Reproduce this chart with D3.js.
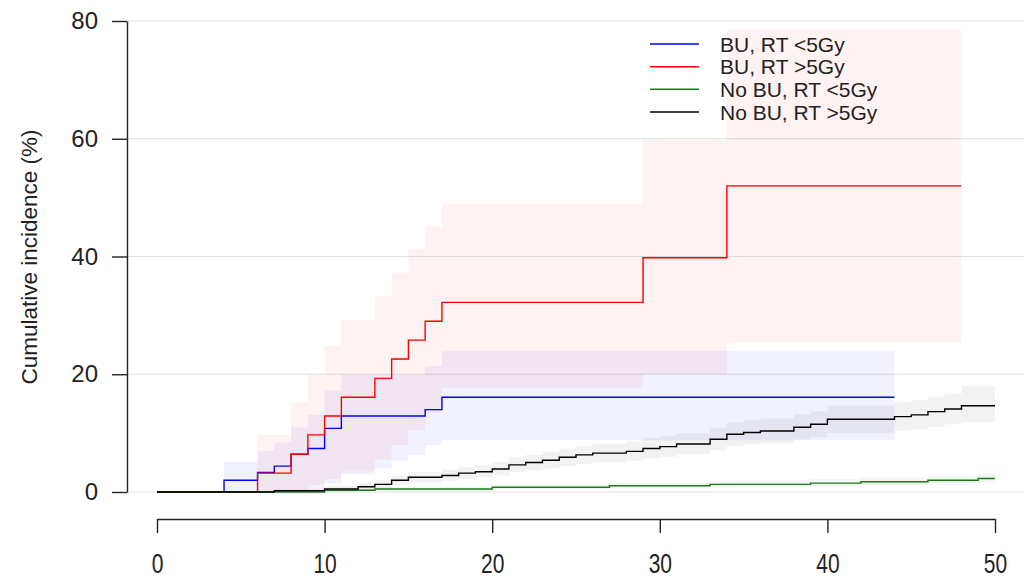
<!DOCTYPE html>
<html>
<head>
<meta charset="utf-8">
<script src="https://cdn.jsdelivr.net/npm/d3@7"></script>
<style>
  html, body { margin: 0; padding: 0; background: #fff; }
  svg { display: block; font-family: "Liberation Sans", Arial, sans-serif; }
</style>
</head>
<body>
<svg id="chart" width="1024" height="578"></svg>
<script>
// ---- Data ----
const seriesNames = ["BU, RT <5Gy", "BU, RT >5Gy", "No BU, RT <5Gy", "No BU, RT >5Gy"];
const seriesColors = ["#0000ff", "#ff0000", "#1a7a1a", "#000000"];
const bandColors = ["#0000ff", "#ff0000", "#1a7a1a", "#000000"];

// BU, RT <5Gy
const blueTimes = [0, 4, 6, 7, 8, 9, 10, 11, 13, 14, 15, 16, 17];
const blueEst   = [0, 2.0, 3.3, 4.4, 6.4, 7.4, 10.8, 12.9, 12.9, 12.9, 12.9, 14.0, 16.1];
const blueLow   = [0, 0, 0, 0, 0, 0.4, 1.5, 3.0, 4.0, 5.3, 6.3, 8.0, 8.8];
const blueUp    = [0, 5.1, 7.0, 8.4, 11.0, 13.1, 17.3, 19.9, 19.9, 19.9, 19.9, 21.4, 24.0];
const blueEnd = 44;

// BU, RT >5Gy
const redTimes = [0, 6, 8, 9, 10, 11, 13, 14, 15, 16, 17, 29, 34];
const redEst   = [0, 3.2, 6.4, 9.7, 12.9, 16.1, 19.3, 22.6, 25.8, 29.0, 32.2, 39.8, 52.0];
const redLow   = [0, 0, 0.3, 1.2, 2.2, 3.5, 5.5, 8.0, 10.5, 13.5, 17.7, 20.0, 25.4];
const redUp    = [0, 9.7, 15.2, 19.9, 24.8, 29.2, 33.3, 37.3, 41.3, 45.1, 48.9, 59.8, 78.5];
const redEnd = 48;

// No BU, RT <5Gy
const greenTimes = [0, 10, 13, 20, 27, 33, 39, 42, 46, 49];
const greenEst   = [0, 0.3, 0.5, 0.8, 1.05, 1.3, 1.5, 1.75, 2.0, 2.3];
const greenLow   = [0, 0.1, 0.2, 0.4, 0.6, 0.8, 0.9, 1.1, 1.3, 1.5];
const greenUp    = [0, 0.6, 0.9, 1.3, 1.6, 1.9, 2.2, 2.5, 2.8, 3.2];
const greenEnd = 50;

// No BU, RT >5Gy
const blackTimes = [0, 7, 10, 12, 13, 14, 15, 17, 18, 19, 20, 21, 22, 23, 24, 25, 26, 28, 29, 30, 31, 33, 34, 35, 36, 38, 39, 40, 44, 45, 46, 47, 48];
const blackEst   = [0, 0.2, 0.5, 0.9, 1.3, 2.0, 2.5, 2.8, 3.2, 3.45, 3.9, 4.6, 5.0, 5.4, 5.9, 6.3, 6.6, 6.9, 7.4, 7.7, 8.15, 8.95, 9.8, 10.1, 10.35, 11.0, 11.5, 12.35, 12.8, 13.1, 13.65, 14.1, 14.65];
const blackLow   = [0, 0, 0.1, 0.3, 0.6, 1.2, 1.6, 1.9, 2.2, 2.4, 2.8, 3.4, 3.7, 4.0, 4.4, 4.8, 5.0, 5.3, 5.7, 6.0, 6.4, 7.1, 7.8, 8.1, 8.3, 8.9, 9.3, 10.0, 10.4, 10.6, 11.1, 11.5, 11.8];
const blackUp    = [0, 0.5, 1.0, 1.5, 2.0, 2.8, 3.4, 3.8, 4.2, 4.6, 5.1, 5.9, 6.3, 6.8, 7.4, 7.8, 8.2, 8.6, 9.2, 9.5, 10.0, 10.9, 11.8, 12.2, 12.5, 13.2, 13.7, 14.7, 15.3, 15.6, 16.2, 16.7, 18.0];
const blackEnd = 50;

const xTicks = [0, 10, 20, 30, 40, 50];
const yTicks = [0, 20, 40, 60, 80];
const yTitle = "Cumulative incidence (%)";

// ---- Build ----
const groups = [
  {times: blueTimes, est: blueEst, low: blueLow, up: blueUp, end: blueEnd},
  {times: redTimes, est: redEst, low: redLow, up: redUp, end: redEnd},
  {times: greenTimes, est: greenEst, low: greenLow, up: greenUp, end: greenEnd},
  {times: blackTimes, est: blackEst, low: blackLow, up: blackUp, end: blackEnd}
].map((g, i) => {
  const pts = g.times.map((t, j) => ({t, e: g.est[j], lo: g.low[j], hi: g.up[j]}));
  const last = pts[pts.length - 1];
  pts.push({t: g.end, e: last.e, lo: last.lo, hi: last.hi});
  return {name: seriesNames[i], color: seriesColors[i], band: bandColors[i], pts};
});

const svg = d3.select("#chart");
const x = d3.scaleLinear().domain([0, 50]).range([157, 995]);
const y = d3.scaleLinear().domain([0, 80]).range([492, 21]);

// gridlines
svg.append("g").selectAll("line").data(yTicks).join("line")
  .attr("x1", 127).attr("x2", 1024)
  .attr("y1", d => y(d)).attr("y2", d => y(d))
  .attr("stroke", "#e0e0e0").attr("stroke-width", 1.2);

// bands
const area = d3.area().curve(d3.curveStepAfter)
  .x(d => x(d.t)).y0(d => y(d.lo)).y1(d => y(d.hi));
svg.append("g").selectAll("path").data(groups).join("path")
  .attr("d", d => area(d.pts))
  .attr("fill", d => d.band).attr("fill-opacity", 0.05).attr("stroke", "none");

// lines
const line = d3.line().curve(d3.curveStepAfter).x(d => x(d.t)).y(d => y(d.e));
svg.append("g").selectAll("path").data(groups).join("path")
  .attr("d", d => line(d.pts))
  .attr("fill", "none").attr("stroke", d => d.color).attr("stroke-width", 1.4);

// y axis
const yAxis = svg.append("g").attr("transform", "translate(127,0)")
  .call(d3.axisLeft(y).tickValues(yTicks).tickSize(15).tickSizeOuter(0).tickPadding(14));
yAxis.select(".domain").attr("stroke", "#222").attr("stroke-width", 1.4);
yAxis.selectAll(".tick line").attr("stroke", "#222").attr("stroke-width", 1.4);
yAxis.selectAll(".tick text").attr("font-size", 24).attr("fill", "#222")
  .attr("font-family", "Liberation Sans, Arial, sans-serif");

// x axis
const xAxis = svg.append("g").attr("transform", "translate(0,519)")
  .call(d3.axisBottom(x).tickValues(xTicks).tickSize(14).tickSizeOuter(0).tickPadding(0));
xAxis.select(".domain").attr("stroke", "#222").attr("stroke-width", 1.4);
xAxis.selectAll(".tick line").attr("stroke", "#222").attr("stroke-width", 1.4);
xAxis.selectAll(".tick text").attr("font-size", 28).attr("fill", "#222")
  .attr("font-family", "Liberation Sans, Arial, sans-serif")
  .attr("dy", null).attr("y", 0)
  .attr("transform", "translate(0,54) scale(0.75,1)");

// y title
svg.append("text")
  .attr("transform", "translate(37,257) rotate(-90)")
  .attr("text-anchor", "middle")
  .attr("font-size", 22.5).attr("fill", "#222")
  .text(yTitle);

// legend
const leg = svg.append("g");
const legY = [44, 66.7, 89.3, 112];
groups.forEach((g, i) => {
  leg.append("line").attr("x1", 650).attr("x2", 699)
    .attr("y1", legY[i]).attr("y2", legY[i])
    .attr("stroke", g.color).attr("stroke-width", 1.4);
  leg.append("text").attr("x", 720).attr("y", legY[i] + 7.5)
    .attr("font-size", 21).attr("fill", "#222").text(g.name);
});
</script>
</body>
</html>
